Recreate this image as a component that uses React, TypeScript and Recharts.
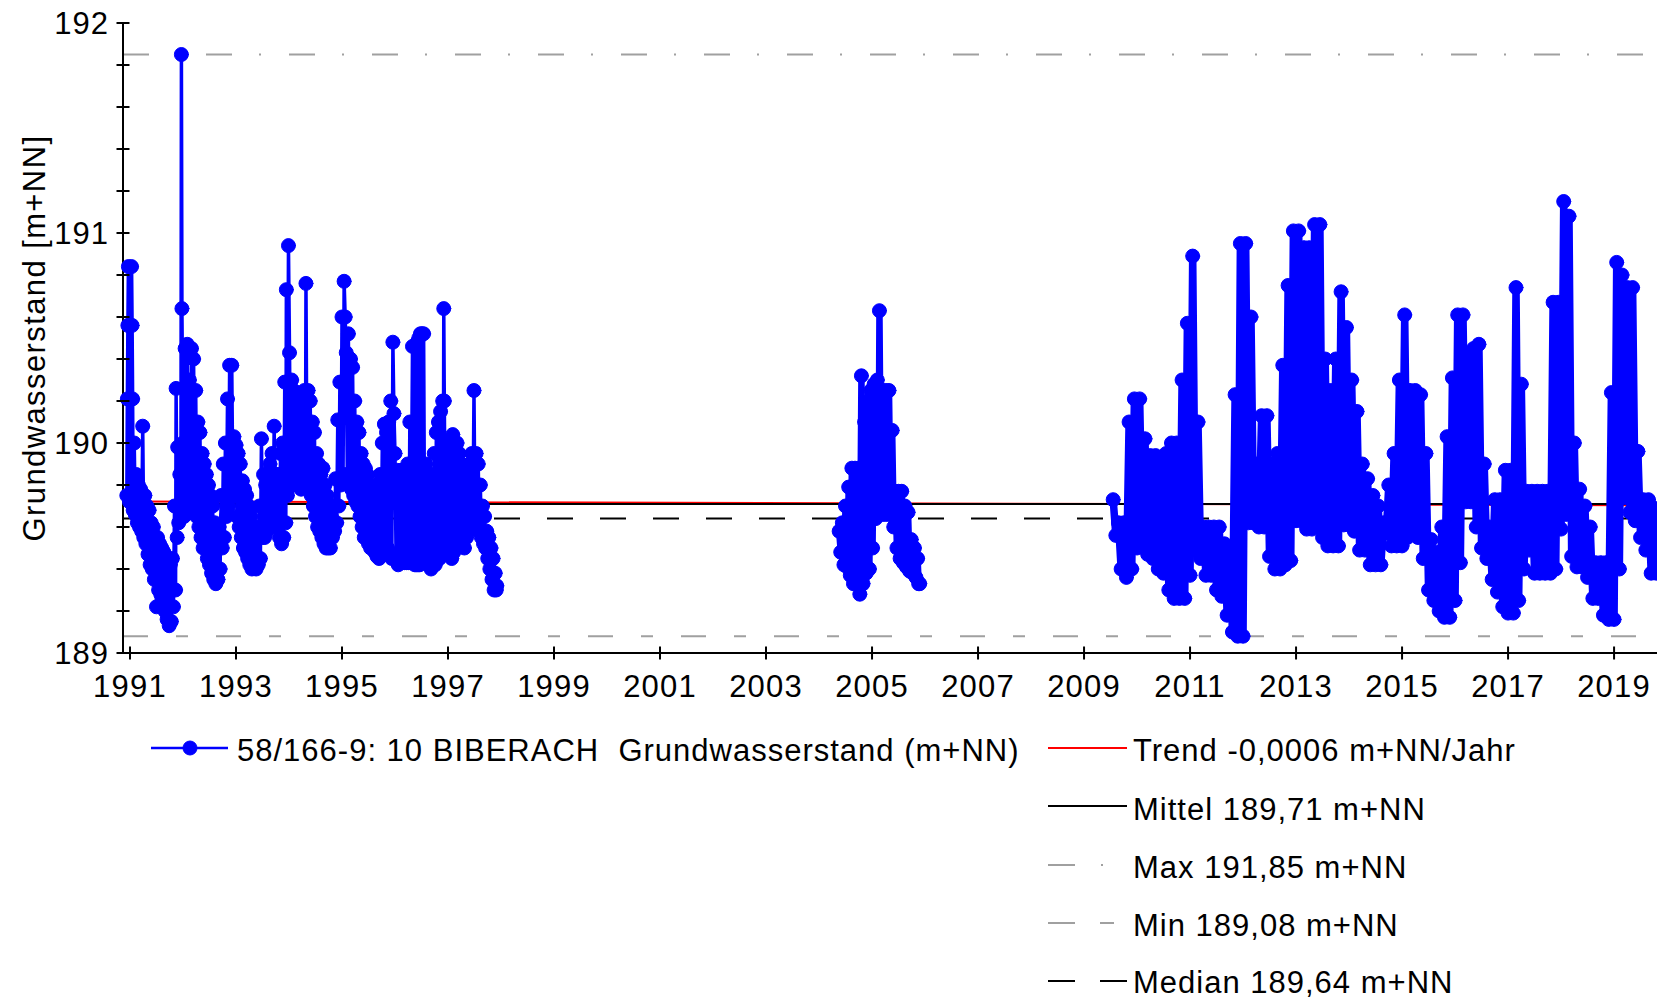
import React from 'react';
import { LineChart, Line, XAxis, YAxis } from 'recharts';

const FONT = "'Liberation Sans', Arial, Helvetica, sans-serif";
const CHART_W = 1657;
const CHART_H = 1001;
const BLUE = '#0000ff';
const GRAY = '#a0a0a0';

const xDomain: [number, number] = [1990.868, 2019.81];
const yDomain: [number, number] = [189, 192];
const xTicks = [1991, 1993, 1995, 1997, 1999, 2001, 2003, 2005, 2007, 2009, 2011, 2013, 2015, 2017, 2019];
const yTicks = [189, 189.2, 189.4, 189.6, 189.8, 190, 190.2, 190.4, 190.6, 190.8, 191, 191.2, 191.4, 191.6, 191.8, 192];

const maxLevel = 191.85;
const minLevel = 189.08;
const meanLevel = 189.71;
const medianLevel = 189.64;
const trendPoints: [number, number][] = [[1990.94, 189.722], [2019.8, 189.703]];

const yAxisTitle = 'Grundwasserstand [m+NN]';
const seriesName = '58/166-9: 10 BIBERACH  Grundwasserstand (m+NN)';
const trendLabel = 'Trend -0,0006 m+NN/Jahr';
const meanLabel = 'Mittel 189,71 m+NN';
const maxLabel = 'Max 191,85 m+NN';
const minLabel = 'Min 189,08 m+NN';
const medianLabel = 'Median 189,64 m+NN';

// Groundwater level readings 1991 - 1998 [year, m+NN]
const wellEarly: [number, number][] = [
  [1990.94, 189.75], [1990.95, 190.21], [1990.96, 190.56], [1990.97, 190.84], [1990.99, 189.72],
  [1991.01, 190.21], [1991.03, 190.84], [1991.04, 190.56], [1991.05, 190.21], [1991.06, 189.68],
  [1991.08, 190.0], [1991.10, 189.66], [1991.12, 189.85], [1991.14, 189.62], [1991.16, 189.8], [1991.18, 189.6],
  [1991.20, 189.78], [1991.22, 189.58], [1991.24, 190.08], [1991.26, 189.55], [1991.28, 189.75], [1991.30, 189.52],
  [1991.32, 189.7], [1991.34, 189.47], [1991.36, 189.68], [1991.38, 189.42], [1991.40, 189.62], [1991.42, 189.4],
  [1991.44, 189.6], [1991.46, 189.35], [1991.48, 189.55], [1991.50, 189.22], [1991.52, 189.55], [1991.54, 189.3],
  [1991.56, 189.52], [1991.58, 189.28], [1991.60, 189.5], [1991.62, 189.25], [1991.64, 189.48], [1991.66, 189.2],
  [1991.68, 189.45], [1991.70, 189.16], [1991.72, 189.45], [1991.74, 189.13], [1991.76, 189.42], [1991.78, 189.15],
  [1991.80, 189.45], [1991.82, 189.22], [1991.84, 189.7], [1991.86, 189.3], [1991.87, 190.26], [1991.89, 189.55],
  [1991.90, 189.98], [1991.92, 189.62], [1991.94, 189.85], [1991.96, 189.65], [1991.97, 191.85], [1991.98, 190.64],
  [1992.00, 190.0], [1992.02, 189.65], [1992.04, 190.45], [1992.06, 189.66], [1992.08, 190.47], [1992.10, 189.75],
  [1992.12, 190.3], [1992.14, 189.7], [1992.16, 190.45], [1992.18, 189.8], [1992.20, 190.4], [1992.22, 189.75],
  [1992.24, 190.25], [1992.26, 189.65], [1992.28, 190.1], [1992.30, 189.6], [1992.32, 190.05], [1992.34, 189.55],
  [1992.36, 189.95], [1992.38, 189.5], [1992.40, 189.9], [1992.42, 189.5], [1992.44, 189.85], [1992.46, 189.45],
  [1992.48, 189.8], [1992.50, 189.42], [1992.52, 189.75], [1992.54, 189.38], [1992.56, 189.7], [1992.58, 189.35],
  [1992.60, 189.62], [1992.62, 189.33], [1992.64, 189.55], [1992.66, 189.35], [1992.68, 189.6], [1992.70, 189.4],
  [1992.72, 189.75], [1992.74, 189.5], [1992.76, 189.9], [1992.78, 189.55], [1992.80, 190.0], [1992.82, 189.65],
  [1992.84, 190.21], [1992.86, 189.7], [1992.88, 190.37], [1992.90, 189.85], [1992.92, 190.37], [1992.94, 189.8],
  [1992.96, 190.03], [1992.98, 189.75], [1993.00, 189.99], [1993.02, 189.65], [1993.04, 189.95], [1993.06, 189.6],
  [1993.08, 189.9], [1993.10, 189.55], [1993.12, 189.82], [1993.14, 189.5], [1993.16, 189.78], [1993.18, 189.48],
  [1993.20, 189.75], [1993.22, 189.45], [1993.24, 189.7], [1993.26, 189.42], [1993.28, 189.65], [1993.30, 189.4],
  [1993.32, 189.6], [1993.34, 189.42], [1993.36, 189.55], [1993.38, 189.4], [1993.40, 189.6], [1993.42, 189.42],
  [1993.44, 189.7], [1993.46, 189.45], [1993.48, 190.02], [1993.50, 189.55], [1993.52, 189.85], [1993.54, 189.55],
  [1993.56, 189.8], [1993.58, 189.58], [1993.60, 189.75], [1993.62, 189.6], [1993.64, 189.9], [1993.66, 189.6],
  [1993.68, 189.95], [1993.70, 189.62], [1993.72, 190.08], [1993.74, 189.65], [1993.76, 189.85], [1993.78, 189.6],
  [1993.80, 189.85], [1993.82, 189.55], [1993.84, 189.95], [1993.86, 189.52], [1993.88, 190.0], [1993.90, 189.55],
  [1993.92, 190.29], [1993.94, 189.62], [1993.95, 190.73], [1993.97, 189.75], [1993.99, 190.94], [1994.01, 190.43],
  [1994.03, 189.8], [1994.05, 190.3], [1994.07, 189.85], [1994.09, 190.25], [1994.11, 189.8], [1994.13, 190.2],
  [1994.15, 189.82], [1994.17, 190.15], [1994.19, 189.8], [1994.21, 190.22], [1994.23, 189.78], [1994.25, 190.2],
  [1994.27, 189.8], [1994.29, 190.25], [1994.31, 189.85], [1994.32, 190.76], [1994.34, 189.82], [1994.36, 190.25],
  [1994.38, 189.8], [1994.40, 190.2], [1994.42, 189.75], [1994.44, 190.1], [1994.46, 189.7], [1994.48, 190.05],
  [1994.50, 189.65], [1994.52, 189.95], [1994.54, 189.6], [1994.56, 189.9], [1994.58, 189.58], [1994.60, 189.85],
  [1994.62, 189.55], [1994.64, 189.88], [1994.66, 189.52], [1994.68, 189.8], [1994.70, 189.5], [1994.72, 189.75],
  [1994.74, 189.5], [1994.76, 189.7], [1994.78, 189.5], [1994.80, 189.65], [1994.82, 189.55], [1994.84, 189.7],
  [1994.86, 189.58], [1994.88, 189.83], [1994.90, 189.62], [1994.92, 190.11], [1994.94, 189.7], [1994.96, 190.29],
  [1994.98, 189.8], [1995.00, 190.6], [1995.02, 189.85], [1995.04, 190.77], [1995.06, 190.6], [1995.08, 190.43],
  [1995.10, 189.85], [1995.12, 190.52], [1995.14, 189.8], [1995.16, 190.4], [1995.18, 189.78], [1995.20, 190.36],
  [1995.22, 189.75], [1995.24, 190.2], [1995.26, 189.72], [1995.28, 190.1], [1995.30, 189.7], [1995.32, 190.05],
  [1995.34, 189.65], [1995.36, 189.95], [1995.38, 189.6], [1995.40, 189.9], [1995.42, 189.55], [1995.44, 189.88],
  [1995.46, 189.55], [1995.48, 189.85], [1995.50, 189.52], [1995.52, 189.8], [1995.54, 189.5], [1995.56, 189.8],
  [1995.58, 189.5], [1995.60, 189.75], [1995.62, 189.48], [1995.64, 189.78], [1995.66, 189.46], [1995.68, 189.8],
  [1995.70, 189.45], [1995.72, 189.85], [1995.74, 189.47], [1995.76, 190.0], [1995.78, 189.5], [1995.80, 190.09],
  [1995.82, 189.52], [1995.84, 190.05], [1995.86, 189.5], [1995.88, 190.1], [1995.90, 189.48], [1995.92, 190.2],
  [1995.94, 189.45], [1995.96, 190.48], [1995.98, 190.14], [1996.00, 189.95], [1996.02, 189.45], [1996.04, 189.87],
  [1996.06, 189.42], [1996.08, 189.85], [1996.10, 189.43], [1996.12, 189.87], [1996.14, 189.43], [1996.16, 189.87],
  [1996.18, 189.43], [1996.20, 189.87], [1996.22, 189.43], [1996.24, 189.9], [1996.26, 189.43], [1996.28, 190.1],
  [1996.30, 189.43], [1996.33, 190.46], [1996.345, 189.43], [1996.36, 190.46], [1996.375, 189.42], [1996.39, 190.46],
  [1996.405, 189.42], [1996.42, 190.48], [1996.435, 189.42], [1996.45, 190.5], [1996.465, 189.42], [1996.48, 190.52],
  [1996.495, 189.43], [1996.51, 190.52], [1996.525, 189.45], [1996.54, 190.52], [1996.56, 189.45], [1996.58, 189.9],
  [1996.60, 189.45], [1996.62, 189.85], [1996.64, 189.42], [1996.66, 189.8], [1996.68, 189.4], [1996.70, 189.85],
  [1996.72, 189.42], [1996.74, 189.95], [1996.76, 189.42], [1996.78, 190.05], [1996.80, 189.45], [1996.82, 190.1],
  [1996.84, 189.45], [1996.86, 190.15], [1996.88, 189.5], [1996.90, 190.2], [1996.91, 189.55], [1996.92, 190.64],
  [1996.93, 190.2], [1996.95, 189.55], [1996.97, 190.0], [1996.99, 189.5], [1997.01, 189.95], [1997.03, 189.48],
  [1997.05, 189.98], [1997.07, 189.45], [1997.09, 190.04], [1997.11, 189.48], [1997.13, 189.98], [1997.15, 189.5],
  [1997.17, 190.0], [1997.19, 189.55], [1997.21, 189.95], [1997.23, 189.55], [1997.25, 189.9], [1997.27, 189.52],
  [1997.29, 189.85], [1997.31, 189.5], [1997.33, 189.85], [1997.35, 189.55], [1997.37, 189.8], [1997.39, 189.58],
  [1997.41, 189.9], [1997.43, 189.6], [1997.45, 189.95], [1997.47, 189.62], [1997.49, 190.25], [1997.51, 189.62],
  [1997.53, 189.95], [1997.55, 189.6], [1997.57, 189.9], [1997.59, 189.58], [1997.61, 189.8], [1997.63, 189.55],
  [1997.65, 189.7], [1997.67, 189.52], [1997.69, 189.65], [1997.71, 189.5], [1997.73, 189.58], [1997.75, 189.45],
  [1997.77, 189.55], [1997.79, 189.4], [1997.81, 189.5], [1997.83, 189.35], [1997.85, 189.45], [1997.87, 189.3],
  [1997.89, 189.38], [1997.91, 189.3], [1997.92, 189.32],
];

// Groundwater level readings 2004 - 2006
const wellMiddle: [number, number][] = [
  [2004.38, 189.58], [2004.41, 189.48], [2004.44, 189.62], [2004.47, 189.42], [2004.50, 189.7], [2004.53, 189.41],
  [2004.56, 189.79], [2004.59, 189.37], [2004.62, 189.88], [2004.65, 189.33], [2004.68, 189.88], [2004.71, 189.33],
  [2004.74, 189.88], [2004.77, 189.28], [2004.80, 190.32], [2004.83, 189.33], [2004.86, 190.1], [2004.89, 189.38],
  [2004.92, 190.2], [2004.95, 189.4], [2004.98, 190.25], [2005.01, 189.5], [2005.04, 190.28], [2005.07, 189.64],
  [2005.10, 190.3], [2005.12, 189.66], [2005.14, 190.63], [2005.17, 189.66], [2005.20, 190.25], [2005.23, 189.66],
  [2005.26, 190.25], [2005.29, 189.66], [2005.32, 190.25], [2005.35, 189.66], [2005.38, 190.06], [2005.41, 189.6],
  [2005.44, 189.77], [2005.47, 189.5], [2005.50, 189.77], [2005.53, 189.45], [2005.56, 189.77], [2005.59, 189.43],
  [2005.62, 189.7], [2005.65, 189.41], [2005.68, 189.67], [2005.71, 189.39], [2005.74, 189.54], [2005.77, 189.38],
  [2005.80, 189.5], [2005.83, 189.36], [2005.86, 189.45], [2005.88, 189.33], [2005.90, 189.33],
];

// Groundwater level readings 2009 - 2019
const wellLate: [number, number][] = [
  [2009.55, 189.73], [2009.60, 189.56], [2009.65, 189.62], [2009.70, 189.4], [2009.75, 189.62], [2009.80, 189.36],
  [2009.85, 190.1], [2009.90, 189.4], [2009.95, 190.21], [2010.00, 189.5], [2010.05, 190.21], [2010.10, 189.53],
  [2010.15, 190.02], [2010.20, 189.47], [2010.25, 189.94], [2010.30, 189.45], [2010.35, 189.94], [2010.40, 189.4],
  [2010.45, 189.93], [2010.50, 189.38], [2010.55, 189.95], [2010.60, 189.3], [2010.65, 190.0], [2010.70, 189.26],
  [2010.75, 190.0], [2010.80, 189.26], [2010.85, 190.3], [2010.90, 189.26], [2010.95, 190.57], [2011.00, 189.37],
  [2011.05, 190.89], [2011.10, 189.49], [2011.15, 190.1], [2011.20, 189.45], [2011.25, 189.6], [2011.30, 189.37],
  [2011.35, 189.6], [2011.40, 189.37], [2011.45, 189.6], [2011.50, 189.3], [2011.55, 189.6], [2011.60, 189.27],
  [2011.65, 189.52], [2011.70, 189.18], [2011.75, 189.48], [2011.80, 189.1], [2011.85, 190.23], [2011.90, 189.08],
  [2011.95, 190.95], [2012.00, 189.08], [2012.05, 190.95], [2012.10, 189.62], [2012.15, 190.6], [2012.20, 189.62],
  [2012.25, 189.9], [2012.30, 189.6], [2012.35, 190.13], [2012.40, 189.6], [2012.45, 190.13], [2012.50, 189.46],
  [2012.55, 189.9], [2012.60, 189.4], [2012.65, 189.95], [2012.70, 189.4], [2012.75, 190.37], [2012.80, 189.42],
  [2012.85, 190.75], [2012.90, 189.44], [2012.95, 191.01], [2013.00, 189.63], [2013.05, 191.01], [2013.10, 189.63],
  [2013.15, 190.93], [2013.20, 189.59], [2013.25, 190.93], [2013.30, 189.59], [2013.35, 191.04], [2013.40, 189.61],
  [2013.45, 191.04], [2013.50, 189.55], [2013.55, 190.4], [2013.60, 189.51], [2013.65, 190.25], [2013.70, 189.51],
  [2013.75, 190.4], [2013.80, 189.51], [2013.85, 190.72], [2013.90, 189.61], [2013.95, 190.55], [2014.00, 189.61],
  [2014.05, 190.3], [2014.10, 189.58], [2014.15, 190.15], [2014.20, 189.49], [2014.25, 189.9], [2014.30, 189.49],
  [2014.35, 189.83], [2014.40, 189.42], [2014.45, 189.75], [2014.50, 189.42], [2014.55, 189.7], [2014.60, 189.42],
  [2014.65, 189.62], [2014.70, 189.57], [2014.75, 189.8], [2014.80, 189.51], [2014.85, 189.95], [2014.90, 189.51],
  [2014.95, 190.3], [2015.00, 189.51], [2015.05, 190.61], [2015.10, 189.55], [2015.15, 190.25], [2015.20, 189.6],
  [2015.25, 190.25], [2015.30, 189.55], [2015.35, 190.23], [2015.40, 189.45], [2015.45, 189.95], [2015.50, 189.3],
  [2015.55, 189.54], [2015.60, 189.25], [2015.65, 189.48], [2015.70, 189.2], [2015.75, 189.6], [2015.80, 189.17],
  [2015.85, 190.03], [2015.90, 189.17], [2015.95, 190.31], [2016.00, 189.25], [2016.05, 190.61], [2016.10, 189.43],
  [2016.15, 190.61], [2016.20, 189.72], [2016.25, 190.42], [2016.30, 189.72], [2016.35, 190.45], [2016.40, 189.6],
  [2016.45, 190.47], [2016.50, 189.5], [2016.55, 189.9], [2016.60, 189.45], [2016.65, 189.6], [2016.70, 189.35],
  [2016.75, 189.73], [2016.80, 189.29], [2016.85, 189.73], [2016.90, 189.22], [2016.95, 189.87], [2017.00, 189.19],
  [2017.05, 189.87], [2017.10, 189.19], [2017.15, 190.74], [2017.20, 189.25], [2017.25, 190.28], [2017.30, 189.4],
  [2017.35, 189.77], [2017.40, 189.49], [2017.45, 189.77], [2017.50, 189.38], [2017.55, 189.77], [2017.60, 189.38],
  [2017.65, 189.77], [2017.70, 189.38], [2017.75, 189.77], [2017.80, 189.38], [2017.85, 190.67], [2017.90, 189.4],
  [2017.95, 190.67], [2018.00, 189.59], [2018.05, 191.15], [2018.10, 189.66], [2018.15, 191.08], [2018.20, 189.46],
  [2018.25, 190.0], [2018.30, 189.41], [2018.35, 189.78], [2018.40, 189.41], [2018.45, 189.7], [2018.50, 189.36],
  [2018.55, 189.6], [2018.60, 189.26], [2018.65, 189.43], [2018.70, 189.26], [2018.75, 189.43], [2018.80, 189.18],
  [2018.85, 189.43], [2018.90, 189.16], [2018.95, 190.24], [2019.00, 189.16], [2019.05, 190.86], [2019.10, 189.4],
  [2019.15, 190.8], [2019.20, 189.74], [2019.25, 190.74], [2019.30, 189.67], [2019.35, 190.74], [2019.40, 189.63],
  [2019.45, 189.96], [2019.50, 189.55], [2019.55, 189.73], [2019.60, 189.49], [2019.65, 189.73], [2019.70, 189.38],
  [2019.75, 189.69], [2019.80, 189.38],
];

const toPoints = (rows: [number, number][]) => rows.map(([x, y]) => ({ x, y }));
const levelLine = (v: number) => [{ x: xDomain[0], y: v }, { x: xDomain[1], y: v }];

const XTick = (props: any) => {
  const { x, y, payload } = props;
  return (
    <g>
      <line x1={x} x2={x} y1={y - 6.5} y2={y + 6.5} stroke="#000" strokeWidth={2} />
      <text x={x} y={y + 44} textAnchor="middle" fontSize={31} letterSpacing={1.2} fontFamily={FONT} fill="#000">
        {payload.value}
      </text>
    </g>
  );
};

const YTick = (props: any) => {
  const { x, y, payload } = props;
  const v = payload.value as number;
  const major = Math.abs(v - Math.round(v)) < 1e-6;
  return (
    <g>
      <line x1={x - 6.5} x2={x + 6.5} y1={y} y2={y} stroke="#000" strokeWidth={2} />
      {major && (
        <text x={x - 14} y={y} dy="0.36em" textAnchor="end" fontSize={31} letterSpacing={1} fontFamily={FONT} fill="#000">
          {Math.round(v)}
        </text>
      )}
    </g>
  );
};

const dotStyle = { r: 7, fill: BLUE, stroke: BLUE, strokeWidth: 1 };

export default function App() {
  const textProps = { fontSize: 31, fontFamily: FONT, fill: '#000', letterSpacing: 1 };
  return (
    <div style={{ position: 'absolute', left: 0, top: 0, width: CHART_W, height: CHART_H, background: '#fff', overflow: 'hidden' }}>
      <LineChart width={CHART_W} height={CHART_H} margin={{ top: 23, right: 0, bottom: 308, left: 0 }}>
        <XAxis
          type="number"
          dataKey="x"
          domain={xDomain}
          ticks={xTicks}
          interval={0}
          tickSize={0}
          tickMargin={0}
          tickLine={false}
          tick={(p: any) => <XTick {...p} />}
          axisLine={{ stroke: '#000', strokeWidth: 2 }}
          height={40}
        />
        <YAxis
          type="number"
          domain={yDomain}
          ticks={yTicks}
          interval={0}
          tickSize={0}
          tickMargin={0}
          tickLine={false}
          tick={(p: any) => <YTick {...p} />}
          axisLine={{ stroke: '#000', strokeWidth: 2 }}
          width={123}
        />
        <Line data={levelLine(maxLevel)} dataKey="y" stroke={GRAY} strokeWidth={2} strokeDasharray="26 27 2 28" dot={false} activeDot={false} isAnimationActive={false} />
        <Line data={levelLine(minLevel)} dataKey="y" stroke={GRAY} strokeWidth={2} strokeDasharray="25 28 12 28" dot={false} activeDot={false} isAnimationActive={false} />
        <Line data={toPoints(trendPoints)} dataKey="y" stroke="#ff0000" strokeWidth={2} dot={false} activeDot={false} isAnimationActive={false} />
        <Line data={levelLine(meanLevel)} dataKey="y" stroke="#000" strokeWidth={2} dot={false} activeDot={false} isAnimationActive={false} />
        <Line data={levelLine(medianLevel)} dataKey="y" stroke="#000" strokeWidth={2} strokeDasharray="26 27" dot={false} activeDot={false} isAnimationActive={false} />
        <Line data={toPoints(wellEarly)} dataKey="y" stroke={BLUE} strokeWidth={3.5} strokeLinejoin="round" strokeLinecap="round" dot={dotStyle} activeDot={false} isAnimationActive={false} />
        <Line data={toPoints(wellMiddle)} dataKey="y" stroke={BLUE} strokeWidth={6.5} strokeLinejoin="round" strokeLinecap="round" dot={dotStyle} activeDot={false} isAnimationActive={false} />
        <Line data={toPoints(wellLate)} dataKey="y" stroke={BLUE} strokeWidth={7.5} strokeLinejoin="round" strokeLinecap="round" dot={dotStyle} activeDot={false} isAnimationActive={false} />
      </LineChart>
      <svg width={CHART_W} height={CHART_H} style={{ position: 'absolute', left: 0, top: 0, pointerEvents: 'none' }}>
        <text transform="translate(45,338) rotate(-90)" textAnchor="middle" {...textProps} letterSpacing={1.4}>
          {yAxisTitle}
        </text>
        {/* legend */}
        <line x1={151} x2={228} y1={748} y2={748} stroke={BLUE} strokeWidth={2.5} />
        <circle cx={190} cy={748} r={7} fill={BLUE} stroke={BLUE} strokeWidth={1} />
        <text x={237} y={761} style={{ whiteSpace: 'pre' }} {...textProps}>{seriesName}</text>

        <line x1={1048} x2={1127} y1={748} y2={748} stroke="#ff0000" strokeWidth={2} />
        <text x={1133} y={761} {...textProps}>{trendLabel}</text>

        <line x1={1048} x2={1127} y1={806} y2={806} stroke="#000" strokeWidth={2} />
        <text x={1133} y={820} {...textProps}>{meanLabel}</text>

        <line x1={1048} x2={1075} y1={865} y2={865} stroke={GRAY} strokeWidth={2} />
        <line x1={1101} x2={1103} y1={865} y2={865} stroke={GRAY} strokeWidth={2} />
        <text x={1133} y={878} {...textProps}>{maxLabel}</text>

        <line x1={1048} x2={1075} y1={923} y2={923} stroke={GRAY} strokeWidth={2} />
        <line x1={1100} x2={1114} y1={923} y2={923} stroke={GRAY} strokeWidth={2} />
        <text x={1133} y={936} {...textProps}>{minLabel}</text>

        <line x1={1048} x2={1075} y1={981} y2={981} stroke="#000" strokeWidth={2} />
        <line x1={1100} x2={1127} y1={981} y2={981} stroke="#000" strokeWidth={2} />
        <text x={1133} y={993} {...textProps}>{medianLabel}</text>
      </svg>
    </div>
  );
}
